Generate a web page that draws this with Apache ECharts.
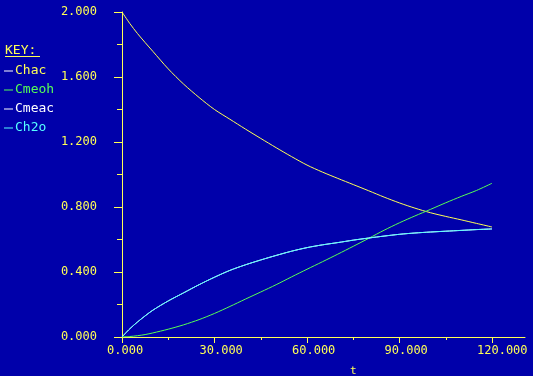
<!DOCTYPE html>
<html>
<head>
<meta charset="utf-8">
<script src="https://cdn.jsdelivr.net/npm/echarts@6/dist/echarts.min.js"></script>
<style>
html,body{margin:0;padding:0;background:#0000AA;}
#chart{width:533px;height:376px;}
</style>
</head>
<body>
<div id="chart"></div>
<script>
var tValues = [0, 2.5, 5, 7.5, 10, 15, 20, 25, 30, 35, 40, 45, 50, 55, 60, 65, 70, 75, 80, 85, 90, 95, 100, 105, 110, 115, 120];
var chac  = [2.00, 1.93, 1.868, 1.812, 1.758, 1.65, 1.556, 1.474, 1.40, 1.34, 1.28, 1.222, 1.165, 1.11, 1.058, 1.015, 0.976, 0.938, 0.90, 0.861, 0.825, 0.793, 0.765, 0.742, 0.721, 0.699, 0.677];
var cmeoh = [0, 0.003, 0.008, 0.015, 0.025, 0.048, 0.075, 0.107, 0.145, 0.188, 0.233, 0.277, 0.322, 0.37, 0.417, 0.463, 0.51, 0.558, 0.607, 0.657, 0.703, 0.745, 0.785, 0.826, 0.865, 0.902, 0.946];
var cmeac = [0, 0.05, 0.092, 0.13, 0.165, 0.222, 0.272, 0.322, 0.368, 0.41, 0.444, 0.474, 0.502, 0.528, 0.55, 0.567, 0.581, 0.596, 0.609, 0.621, 0.632, 0.64, 0.646, 0.651, 0.656, 0.661, 0.665];
var ch2o  = [0, 0.05, 0.092, 0.13, 0.165, 0.222, 0.272, 0.322, 0.368, 0.41, 0.444, 0.474, 0.502, 0.528, 0.55, 0.567, 0.581, 0.596, 0.609, 0.621, 0.632, 0.64, 0.646, 0.651, 0.656, 0.661, 0.665];
var seriesNames = ['Chac', 'Cmeoh', 'Cmeac', 'Ch2o'];
var xTickLabels = ['0.000', '30.000', '60.000', '90.000', '120.000'];
var yTickLabels = ['0.000', '0.400', '0.800', '1.200', '1.600', '2.000'];

var YEL = '#FFFF55', GRN = '#55FF55', WHT = '#FFFFFF', CYN = '#55FFFF', BG = '#0000AA';
var FONT = 'DejaVu Sans Mono';

function pairs(vals) { return tValues.map(function (t, i) { return [t, vals[i]]; }); }

var chart = echarts.init(document.getElementById('chart'), null, {renderer: 'canvas'});

var xFmt = function (v) { var i = Math.round(v / 30); return '{a|' + (xTickLabels[i] || v.toFixed(3)) + '}'; };
var yFmt = function (v) { var i = Math.round(v / 0.4); return yTickLabels[i] || v.toFixed(3); };

function lineSeries(name, vals, color) {
  return {
    name: name, type: 'line', data: pairs(vals), xAxisIndex: 0, yAxisIndex: 0,
    showSymbol: false, symbol: 'none', smooth: 0.3, silent: true, animation: false,
    lineStyle: {color: color, width: 1}, itemStyle: {color: color}
  };
}

chart.setOption({
  backgroundColor: BG,
  animation: false,
  grid: [
    {left: 122, right: 41, top: 12, bottom: 39},
    {left: 115, right: 8, top: 12, bottom: 39}
  ],
  title: {
    text: 't', left: 345, top: 361,
    textStyle: {color: YEL, fontFamily: FONT, fontSize: 11, fontWeight: 'normal'}
  },
  legend: {
    orient: 'vertical', left: 4, top: 64, padding: 0, selectedMode: false,
    icon: 'rect', itemWidth: 9, itemHeight: 1, itemGap: 5,
    textStyle: {fontFamily: FONT, fontSize: 13, lineHeight: 14, padding: [0, 0, 0, -3]},
    data: [
      {name: 'Chac', itemStyle: {color: WHT}, textStyle: {color: YEL}},
      {name: 'Cmeoh', itemStyle: {color: GRN}, textStyle: {color: GRN}},
      {name: 'Cmeac', itemStyle: {color: WHT}, textStyle: {color: WHT}},
      {name: 'Ch2o', itemStyle: {color: CYN}, textStyle: {color: CYN}}
    ]
  },
  graphic: [
    {type: 'text', left: 5, top: 44, style: {text: 'KEY:', fill: YEL, font: '13px "' + FONT + '"'}},
    {type: 'rect', left: 5, top: 56, shape: {width: 35, height: 1}, style: {fill: YEL}}
  ],
  xAxis: [
    {
      type: 'value', gridIndex: 0, min: 0, max: 120, interval: 30,
      axisLine: {show: true, lineStyle: {color: YEL, width: 1}},
      axisTick: {show: true, inside: false, length: 6, lineStyle: {color: YEL}},
      minorTick: {show: true, splitNumber: 2, length: 3, lineStyle: {color: YEL}},
      splitLine: {show: false},
      axisLabel: {
        show: true, margin: 8, formatter: xFmt, color: YEL, fontFamily: FONT, fontSize: 12,
        rich: {a: {width: 30, align: 'left', color: YEL, fontFamily: FONT, fontSize: 12}}
      }
    },
    {
      type: 'value', gridIndex: 0, min: 0, max: 120, interval: 30,
      axisLine: {show: false},
      axisTick: {show: true, inside: true, length: 5, lineStyle: {color: YEL}},
      minorTick: {show: true, splitNumber: 2, length: 3, lineStyle: {color: YEL}},
      splitLine: {show: false}, axisLabel: {show: false}
    },
    {
      type: 'value', gridIndex: 1, min: 0, max: 1,
      axisLine: {show: true, lineStyle: {color: YEL, width: 1}},
      axisTick: {show: false}, axisLabel: {show: false}, splitLine: {show: false}
    }
  ],
  yAxis: [
    {
      type: 'value', gridIndex: 0, min: 0, max: 2, interval: 0.4,
      axisLine: {show: true, lineStyle: {color: YEL, width: 1}},
      axisTick: {show: true, inside: false, length: 7, lineStyle: {color: YEL}},
      minorTick: {show: true, splitNumber: 2, length: 4, lineStyle: {color: YEL}},
      splitLine: {show: false},
      axisLabel: {show: true, margin: 25, formatter: yFmt, color: YEL, fontFamily: FONT, fontSize: 12}
    },
    {
      type: 'value', gridIndex: 0, min: 0, max: 2, interval: 0.4,
      axisLine: {show: false},
      axisTick: {show: true, inside: true, length: 8, lineStyle: {color: YEL}},
      minorTick: {show: true, splitNumber: 2, length: 5, lineStyle: {color: YEL}},
      splitLine: {show: false}, axisLabel: {show: false}
    },
    {type: 'value', gridIndex: 1, show: false, min: 0, max: 1}
  ],
  series: [
    lineSeries(seriesNames[0], chac, YEL),
    lineSeries(seriesNames[1], cmeoh, GRN),
    lineSeries(seriesNames[2], cmeac, WHT),
    lineSeries(seriesNames[3], ch2o, CYN)
  ]
});
</script>
</body>
</html>
